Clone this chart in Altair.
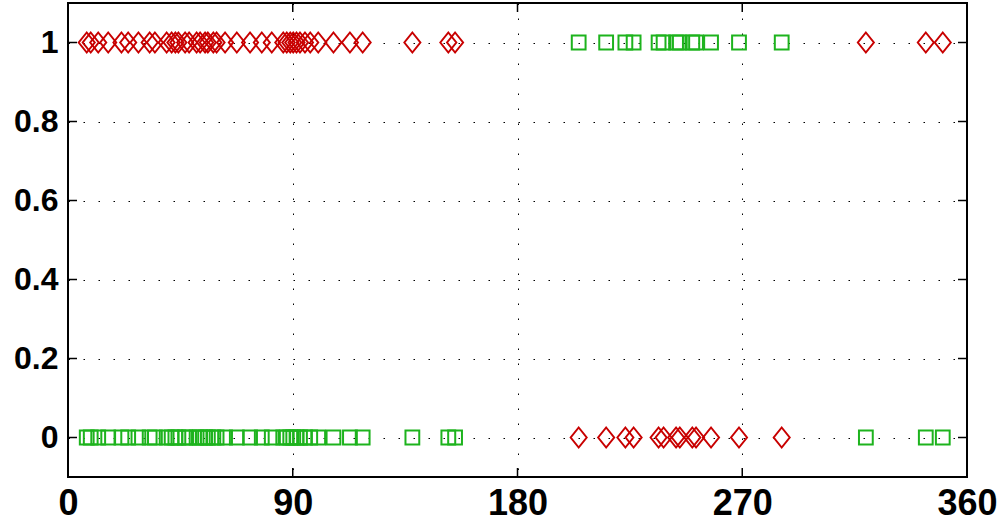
import altair as alt
import pandas as pd

# Angles (degrees) of the two groups of samples
angles_a = [7.5, 9.1, 12.1, 16.1, 21.4, 24.1, 28.2, 32.7, 34.8, 39.5, 41.5, 43.0,
            44.2, 46.9, 48.5, 51.5, 52.9, 54.9, 56.0, 58.2, 59.5, 62.9, 67.6, 72.9,
            77.6, 81.6, 86.2, 87.6, 89.0, 90.2, 91.5, 92.9, 94.9, 97.0, 100.2, 106.3,
            112.9, 118.0, 137.9, 152.3, 155.0, 319.5, 343.5, 350.3]
angles_b = [204.5, 215.5, 223.2, 226.5, 236.5, 238.5, 243.5, 245.0, 250.0, 251.5,
            257.5, 268.7, 285.8]

# Class indicator for each group
red_a, red_b = 1, 0
green_a, green_b = 0, 1

x_ticks = [0, 90, 180, 270, 360]
y_ticks = [0, 0.2, 0.4, 0.6, 0.8, 1]

W, H = 899, 474
TICK = 9

red_df = pd.DataFrame({"angle": angles_a + angles_b,
                       "value": [red_a] * len(angles_a) + [red_b] * len(angles_b)})
green_df = pd.DataFrame({"angle": angles_a + angles_b,
                         "value": [green_a] * len(angles_a) + [green_b] * len(angles_b)})

x_scale = alt.Scale(domain=[0, 360], nice=False, zero=False)
y_scale = alt.Scale(domain=[-0.1, 1.1], nice=False, zero=False)

x_axis = alt.Axis(values=x_ticks, format="d", grid=True, gridDash=[1.5, 13.5],
                  gridColor="black", gridWidth=1, gridOpacity=1, ticks=False, domain=False,
                  labelFont="Liberation Sans Narrow, Arial Narrow, sans-serif",
                  labelFontWeight="bold",
                  labelFontSize=36, labelColor="black", labelPadding=9, title=None,
                  labelFlush=False)
y_axis = alt.Axis(values=y_ticks, format="~g", grid=True, gridDash=[1.5, 13.5],
                  gridColor="black", gridWidth=1, gridOpacity=1, ticks=False, domain=False,
                  labelFont="Liberation Sans, Arial, Helvetica, sans-serif",
                  labelFontWeight="bold",
                  labelFontSize=32, labelColor="black", labelPadding=10, title=None)

x_enc = alt.X("angle:Q", scale=x_scale, axis=x_axis)
y_enc = alt.Y("value:Q", scale=y_scale, axis=y_axis)

diamond = "M0,-1L0.8,0L0,1L-0.8,0Z"

red_layer = alt.Chart(red_df).mark_point(
    shape=diamond, size=400, filled=False, color="#c80000", strokeWidth=2, opacity=1
).encode(x=x_enc, y=y_enc)

green_layer = alt.Chart(green_df).mark_point(
    shape="square", size=190, filled=False, color="#1db31d", strokeWidth=2, opacity=1
).encode(x=x_enc, y=y_enc)

# Inward-pointing tick marks on all four sides of the frame
xt = pd.DataFrame({"angle": x_ticks})
yt = pd.DataFrame({"value": y_ticks})

x_ticks_bottom = alt.Chart(xt).mark_rule(color="black", strokeWidth=1.5).encode(
    x=x_enc, y=alt.value(H), y2=alt.value(H - TICK))
x_ticks_top = alt.Chart(xt).mark_rule(color="black", strokeWidth=1.5).encode(
    x=x_enc, y=alt.value(0), y2=alt.value(TICK))
y_ticks_left = alt.Chart(yt).mark_rule(color="black", strokeWidth=1.5).encode(
    y=y_enc, x=alt.value(0), x2=alt.value(TICK))
y_ticks_right = alt.Chart(yt).mark_rule(color="black", strokeWidth=1.5).encode(
    y=y_enc, x=alt.value(W), x2=alt.value(W - TICK))

chart = alt.layer(
    red_layer, green_layer, x_ticks_bottom, x_ticks_top, y_ticks_left, y_ticks_right
).properties(
    width=W, height=H,
    autosize=alt.AutoSizeParams(type="none"),
    padding={"left": 68, "top": 3, "right": 38, "bottom": 52},
    background="white",
).configure_view(
    stroke="black", strokeWidth=2
)

chart.save("out.html", embed_options={"renderer": "svg", "actions": False})
